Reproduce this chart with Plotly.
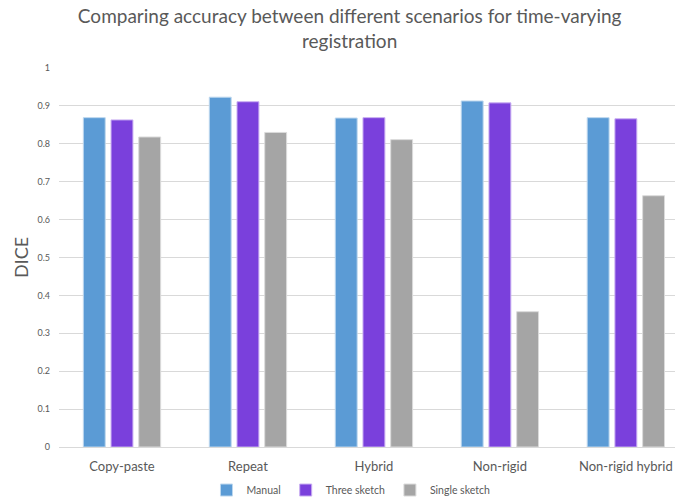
import plotly.graph_objects as go

# Scenario categories and DICE scores per method
scenarios = ["Copy-paste", "Repeat", "Hybrid", "Non-rigid", "Non-rigid hybrid"]
manual = [0.869, 0.923, 0.868, 0.913, 0.869]
three_sketch = [0.863, 0.911, 0.869, 0.908, 0.866]
single_sketch = [0.818, 0.830, 0.811, 0.357, 0.663]
y_ticks = [0, 0.1, 0.2, 0.3, 0.4, 0.5, 0.6, 0.7, 0.8, 0.9, 1]
y_tick_text = ["0", "0.1", "0.2", "0.3", "0.4", "0.5", "0.6", "0.7", "0.8", "0.9", "1"]

FONT = "Lato"
TEXT = "#595959"

series = [
    ("Manual", manual, "#5B9BD5", "#BDD7EE"),
    ("Three sketch", three_sketch, "#7A40DC", "#C9AEF2"),
    ("Single sketch", single_sketch, "#A5A5A5", "#DBDBDB"),
]

fig = go.Figure()
for name, vals, color, edge in series:
    fig.add_trace(go.Bar(
        name=name, x=scenarios, y=vals,
        marker=dict(color=color, line=dict(color=edge, width=1)),
    ))

fig.update_layout(
    width=675, height=497,
    margin=dict(l=59, r=0, t=68, b=50, autoexpand=False),
    paper_bgcolor="white", plot_bgcolor="white",
    barmode="group", bargap=0.34, bargroupgap=0.21,
    font=dict(family=FONT, color=TEXT),
    title=dict(
        text="Comparing accuracy between different scenarios for time-varying<br>registration",
        x=0.518, xanchor="center", xref="container",
        y=0.953, yanchor="top", yref="container",
        font=dict(family=FONT, size=19, color=TEXT),
    ),
    legend=dict(
        orientation="h", x=0.474, xanchor="center", xref="paper",
        y=0.014, yanchor="middle", yref="container",
        font=dict(family=FONT, size=10.5, color=TEXT),
        itemwidth=30, traceorder="normal",
    ),
    showlegend=True,
)
fig.update_xaxes(
    range=[-0.5, 4.39], showgrid=False, showline=False, zeroline=False,
    tickfont=dict(family=FONT, size=13, color=TEXT), ticks="", ticklabelstandoff=10,
)
fig.update_yaxes(
    range=[0, 1], tickvals=y_ticks, ticktext=y_tick_text,
    showgrid=True, gridcolor="#D9D9D9", gridwidth=1,
    zeroline=True, zerolinecolor="#D9D9D9", zerolinewidth=1,
    tickfont=dict(family=FONT, size=9, color=TEXT), ticks="", ticklabelstandoff=8,
    title=dict(text="DICE", font=dict(family=FONT, size=18, color=TEXT), standoff=4),
)

fig.write_html("out.html")
